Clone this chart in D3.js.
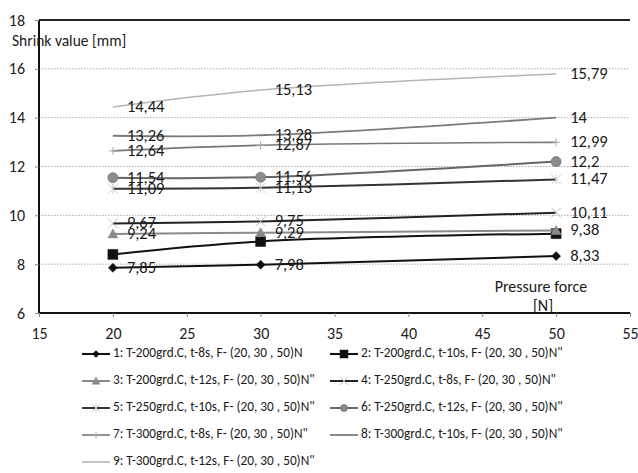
<!DOCTYPE html>
<html>
<head>
<meta charset="utf-8">
<script src="https://cdn.jsdelivr.net/npm/d3@7/dist/d3.min.js"></script>
<style>
  html, body { margin: 0; padding: 0; background: #fff; }
  svg { display: block; font-family: Carlito, Lato, "Open Sans", sans-serif; }
</style>
</head>
<body>
<svg id="chart" width="638" height="473"></svg>
<script>
// ---- data ----
const forces = [20, 30, 50];
const seriesNames = [
  '1: T-200grd.C, t-8s, F- (20, 30 , 50)N',
  '2: T-200grd.C, t-10s, F- (20, 30 , 50)N"',
  '3: T-200grd.C, t-12s, F- (20, 30 , 50)N"',
  '4: T-250grd.C, t-8s, F- (20, 30 , 50)N"',
  '5: T-250grd.C, t-10s, F- (20, 30 , 50)N"',
  '6: T-250grd.C, t-12s, F- (20, 30 , 50)N"',
  '7: T-300grd.C, t-8s, F- (20, 30 , 50)N"',
  '8: T-300grd.C, t-10s, F- (20, 30 , 50)N"',
  '9: T-300grd.C, t-12s, F- (20, 30 , 50)N"'
];
const s1 = [7.85, 7.98, 8.33];
const s2 = [8.40, 8.93, 9.25];
const s3 = [9.24, 9.29, 9.38];
const s4 = [9.67, 9.75, 10.11];
const s5 = [11.09, 11.13, 11.47];
const s6 = [11.54, 11.56, 12.2];
const s7 = [12.64, 12.87, 12.99];
const s8 = [13.26, 13.28, 14];
const s9 = [14.44, 15.13, 15.79];
const seriesValues = [s1, s2, s3, s4, s5, s6, s7, s8, s9];
const showLabels = [true, false, true, true, true, true, true, true, true];
const xTicks = [15, 20, 25, 30, 35, 40, 45, 50, 55];
const yTicks = [6, 8, 10, 12, 14, 16, 18];
const yTitle = 'Shrink value [mm]';
const xTitle1 = 'Pressure force';
const xTitle2 = '[N]';

// ---- styles ----
const styles = [
  {stroke: '#111', width: 2, marker: 'diamond', fill: '#111'},
  {stroke: '#111', width: 2, marker: 'square', fill: '#111'},
  {stroke: '#8a8a8a', width: 2, marker: 'triangle', fill: '#8a8a8a'},
  {stroke: '#222', width: 2, marker: 'x', fill: '#bbb'},
  {stroke: '#333', width: 2, marker: 'star', fill: '#c8c8c8'},
  {stroke: '#666', width: 2, marker: 'circle', fill: '#8c8c8c'},
  {stroke: '#777', width: 1.6, marker: 'plus', fill: '#aaa'},
  {stroke: '#7a7a7a', width: 1.8, marker: 'none', fill: '#999'},
  {stroke: '#b5b5b5', width: 1.6, marker: 'none', fill: '#bbb'}
];

const svg = d3.select('#chart');
const x = d3.scaleLinear().domain([15, 55]).range([39, 630]);
const y = d3.scaleLinear().domain([6, 18]).range([313, 20]);

// gridlines
svg.append('g').selectAll('line')
  .data(yTicks.filter(t => t > 6 && t < 18))
  .join('line')
  .attr('x1', x(15)).attr('x2', x(55))
  .attr('y1', d => y(d)).attr('y2', d => y(d))
  .attr('stroke', '#aaa').attr('stroke-width', 1)
  .attr('stroke-dasharray', '1.5,1.5');

// top border
svg.append('line')
  .attr('x1', x(15)).attr('x2', x(55))
  .attr('y1', y(18)).attr('y2', y(18))
  .attr('stroke', '#222').attr('stroke-width', 2);

// axes
const yAxis = svg.append('g')
  .attr('transform', `translate(${x(15)},0)`)
  .call(d3.axisLeft(y).tickValues(yTicks).tickSize(4).tickPadding(10).tickFormat(d3.format('d')));
const xAxis = svg.append('g')
  .attr('transform', `translate(0,${y(6)})`)
  .call(d3.axisBottom(x).tickValues(xTicks).tickSize(4).tickPadding(11).tickFormat(d3.format('d')));
[yAxis, xAxis].forEach(a => {
  a.select('.domain').attr('stroke', '#111').attr('stroke-width', 2);
  a.selectAll('.tick line').attr('stroke', '#888');
  a.selectAll('.tick text').attr('fill', '#222').style('font-size', '16px')
    .style('font-family', 'Carlito, Lato, sans-serif');
});
xAxis.select('.domain').attr('d', `M${x(15)},0H${x(55)}`);
yAxis.select('.domain').attr('d', `M0,${y(6)}V${y(18)}`);

// marker path generator
function markerPath(type, s) {
  const h = s / 2;
  switch (type) {
    case 'diamond': return `M0,${-h}L${h},0L0,${h}L${-h},0Z`;
    case 'square': return `M${-h},${-h}H${h}V${h}H${-h}Z`;
    case 'triangle': return `M0,${-h}L${h},${h * 0.8}L${-h},${h * 0.8}Z`;
    case 'x': return `M${-h},${-h}L${h},${h}M${h},${-h}L${-h},${h}`;
    case 'star': return `M${-h},${-h}L${h},${h}M${h},${-h}L${-h},${h}M0,${-h}V${h}`;
    case 'plus': return `M${-h},0H${h}M0,${-h}V${h}`;
    default: return '';
  }
}
function drawMarker(g, type, st, cx, cy, size) {
  if (type === 'none') return;
  if (type === 'circle') {
    g.append('circle').attr('cx', cx).attr('cy', cy).attr('r', size / 2)
      .attr('fill', st.fill).attr('stroke', '#777').attr('stroke-width', 0.8);
    return;
  }
  const filled = ['diamond', 'square', 'triangle'].includes(type);
  g.append('path').attr('transform', `translate(${cx},${cy})`)
    .attr('d', markerPath(type, size))
    .attr('fill', filled ? st.fill : 'none')
    .attr('stroke', st.fill).attr('stroke-width', filled ? 0.5 : 1);
}

const line = d3.line()
  .x((d, i) => x(forces[i]))
  .y(d => y(d))
  .curve(d3.curveCatmullRom.alpha(0.5));

const plot = svg.append('g');
seriesValues.forEach((vals, si) => {
  const st = styles[si];
  const g = plot.append('g');
  g.append('path').datum(vals).attr('d', line)
    .attr('fill', 'none').attr('stroke', st.stroke).attr('stroke-width', st.width);
  const sizes = {diamond: 9, square: 10, triangle: 10, x: 10, star: 10, circle: 10, plus: 8};
  vals.forEach((v, i) => drawMarker(g, st.marker, st, x(forces[i]), y(v), sizes[st.marker]));
});

// data labels
const fmt = v => String(v).replace('.', ',');
seriesValues.forEach((vals, si) => {
  if (!showLabels[si]) return;
  svg.append('g').selectAll('text').data(vals).join('text')
    .attr('x', (d, i) => x(forces[i]) + 14)
    .attr('y', d => y(d) + 1)
    .attr('dominant-baseline', 'middle')
    .attr('fill', '#1a1a1a')
    .style('font-size', '16.5px')
    .text(d => fmt(d));
});

// titles
svg.append('text').attr('x', 12).attr('y', 42).attr('dominant-baseline', 'middle')
  .attr('fill', '#1a1a1a').style('font-size', '15.5px').text(yTitle);
svg.append('text').attr('x', 541).attr('y', 288).attr('text-anchor', 'middle')
  .attr('dominant-baseline', 'middle').attr('fill', '#1a1a1a').style('font-size', '16px').text(xTitle1);
svg.append('text').attr('x', 543).attr('y', 307).attr('text-anchor', 'middle')
  .attr('dominant-baseline', 'middle').attr('fill', '#1a1a1a').style('font-size', '16px').text(xTitle2);

// legend
const legRows = [354, 381, 408, 435, 462];
const legCols = [82, 330];
const leg = svg.append('g');
seriesNames.forEach((name, i) => {
  const row = Math.floor(i / 2), col = i % 2;
  const ly = legRows[row], lx = legCols[col];
  const st = styles[i];
  const g = leg.append('g');
  g.append('line').attr('x1', lx).attr('x2', lx + 28).attr('y1', ly).attr('y2', ly)
    .attr('stroke', st.stroke).attr('stroke-width', st.width);
  const msz = {diamond: 7, square: 8, triangle: 8, x: 8, star: 8, circle: 7, plus: 7};
  drawMarker(g, st.marker, st, lx + 14, ly, msz[st.marker]);
  g.append('text').attr('x', lx + 31).attr('y', ly).attr('dominant-baseline', 'middle')
    .attr('fill', '#1a1a1a').style('font-size', '13.3px').text(name);
});
</script>
</body>
</html>
